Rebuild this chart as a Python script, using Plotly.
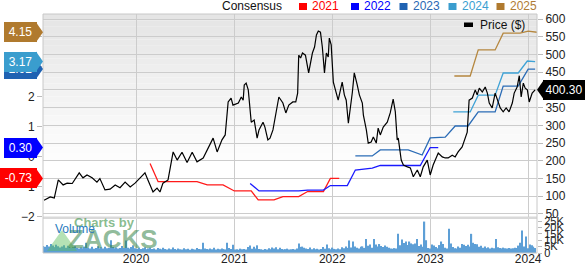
import plotly.graph_objects as go
import pandas as pd

# ---------------- data ----------------
price_dates = ["2019-01-23","2019-02-15","2019-03-02","2019-03-17","2019-04-04","2019-04-19","2019-05-08","2019-06-03","2019-06-17","2019-07-02",
"2019-07-21","2019-08-08","2019-08-19","2019-09-07","2019-09-26","2019-10-15","2019-11-02","2019-11-21","2019-12-10","2019-12-28",
"2020-01-16","2020-02-03","2020-02-14","2020-03-04","2020-03-19","2020-03-30","2020-04-10","2020-04-29","2020-05-18","2020-06-02",
"2020-06-20","2020-07-09","2020-07-28","2020-08-15","2020-09-07","2020-09-22","2020-10-14","2020-10-29","2020-11-09","2020-11-16",
"2020-11-28","2020-12-09","2020-12-20","2020-12-27","2021-01-16","2021-01-27","2021-02-03","2021-02-07","2021-02-14","2021-02-22",
"2021-03-05","2021-03-16","2021-03-27","2021-04-03","2021-04-18","2021-04-25","2021-05-06","2021-05-14","2021-05-25","2021-06-05",
"2021-06-16","2021-07-01","2021-07-12","2021-07-23","2021-08-07","2021-08-18","2021-08-25","2021-08-29","2021-09-05","2021-09-12",
"2021-09-23","2021-10-05","2021-10-19","2021-10-27","2021-11-03","2021-11-10","2021-11-18","2021-11-25","2021-12-03","2021-12-10",
"2021-12-17","2021-12-21","2021-12-28","2022-01-05","2022-01-16","2022-01-23","2022-02-07","2022-02-15","2022-02-22","2022-03-02",
"2022-03-17","2022-03-24","2022-04-04","2022-04-12","2022-04-23","2022-04-27","2022-05-08","2022-05-15","2022-05-26","2022-06-03",
"2022-06-14","2022-06-21","2022-06-29","2022-07-10","2022-07-25","2022-08-05","2022-08-16","2022-08-24","2022-08-31","2022-09-04",
"2022-09-15","2022-09-23","2022-10-08","2022-10-19","2022-10-30","2022-11-14","2022-11-25","2022-12-06","2022-12-21","2023-01-01",
"2023-01-12","2023-01-20","2023-01-31","2023-02-15","2023-02-26","2023-03-09","2023-03-24","2023-04-04","2023-04-15","2023-04-30",
"2023-05-11","2023-05-19","2023-05-26","2023-06-07","2023-06-18","2023-06-25","2023-07-03","2023-07-14","2023-07-25","2023-08-02",
"2023-08-09","2023-08-20","2023-08-31","2023-09-08","2023-09-19","2023-09-30","2023-10-11","2023-10-22","2023-11-03","2023-11-10",
"2023-11-21","2023-11-29","2023-12-06","2023-12-14","2023-12-21","2023-12-29","2024-01-05","2024-01-16","2024-01-27"]
price_values = [89,98,95,146,132,137,136,166,152,160,
152,140,150,118,120,132,124,140,126,137,
152,166,146,112,123,112,137,146,225,202,
224,195,224,197,208,230,264,225,247,259,
273,366,377,357,363,380,371,414,419,400,
309,315,264,287,309,295,259,264,287,329,
380,363,335,357,366,366,391,498,490,504,
498,448,504,521,555,566,563,521,448,504,
493,546,527,422,386,371,422,386,371,306,
394,448,414,386,363,329,287,250,253,267,
250,292,273,295,309,335,374,338,259,264,
202,188,183,180,155,174,155,183,202,160,
188,202,222,211,208,208,216,211,225,239,
264,281,371,377,400,386,405,394,408,391,
363,349,391,371,349,338,349,338,363,391,
408,440,380,419,405,400,366,391,400.30]

eps2021_dates = ["2020-02-22","2020-03-23","2020-08-15","2020-09-22","2020-11-20","2021-01-01","2021-03-05","2021-03-31",
                 "2021-05-29","2021-07-01","2021-08-29","2021-10-01","2021-11-29","2021-12-25","2022-01-27"]
eps2021_values = [-0.23,-0.84,-0.84,-0.95,-0.95,-1.15,-1.15,-1.45,-1.45,-1.34,-1.34,-1.17,-1.17,-0.73,-0.73]

eps2022_dates = ["2021-03-01","2021-04-03","2021-08-29","2021-10-01","2021-11-29","2021-12-25","2022-02-26","2022-03-28",
                 "2022-05-30","2022-06-29","2022-11-25","2023-01-01","2023-01-31"]
eps2022_values = [-0.90,-1.15,-1.15,-1.12,-1.12,-0.97,-0.97,-0.45,-0.39,-0.30,-0.30,0.30,0.30]

eps2023_dates = ["2022-03-28","2022-05-30","2022-06-29","2022-10-11","2022-12-02","2023-01-01","2023-02-26","2023-04-04",
                 "2023-05-22","2023-06-29","2023-08-31","2023-09-30","2023-11-25","2024-01-01","2024-01-27"]
eps2023_values = [0.02,0.02,0.22,0.22,0.05,0.62,0.65,1.02,1.02,1.49,1.49,2.35,2.35,2.92,2.92]

eps2024_dates = ["2023-03-28","2023-05-30","2023-06-29","2023-08-31","2023-09-30","2023-11-25","2023-12-29","2024-01-27"]
eps2024_values = [1.49,1.49,2.05,2.05,2.79,2.79,3.19,3.17]

eps2025_dates = ["2023-04-01","2023-05-30","2023-06-29","2023-08-31","2023-09-30","2023-12-02","2024-01-01","2024-02-03"]
eps2025_values = [2.69,2.69,3.56,3.56,4.12,4.12,4.19,4.15]

volume_start = "2019-01-20"
volume_k = [5.5,4.8,6.2,5.0,7.0,5.8,4.6,6.5,5.2,4.4,
5.0,6.0,4.2,5.6,4.8,3.9,4.5,5.2,4.0,3.6,
4.4,3.8,5.0,8.0,4.2,3.6,4.8,3.4,4.0,5.2,
3.8,4.4,3.5,4.9,3.7,4.2,10.0,4.6,3.8,4.3,
3.5,4.0,5.5,3.9,9.8,4.2,3.6,4.7,6.0,3.8,
3.4,4.0,3.2,3.7,4.5,3.0,3.6,4.2,3.1,3.5,
2.8,3.9,3.3,2.9,4.1,3.2,2.7,3.6,3.0,4.4,
3.1,2.6,3.5,3.0,2.8,3.8,2.9,3.3,2.6,3.4,
3.0,2.7,4.0,3.2,2.9,8.0,3.6,3.1,2.8,3.5,
3.0,4.2,2.7,3.3,2.9,3.6,3.1,2.8,8.0,4.0,
3.2,6.4,2.8,3.0,2.6,3.4,2.9,3.1,2.7,4.6,
5.9,3.3,4.8,3.5,6.0,3.2,2.9,2.6,3.1,2.7,
3.8,3.0,4.3,3.6,4.5,2.9,4.1,3.2,2.8,3.0,
3.4,2.7,2.9,3.1,2.8,3.5,7.4,4.8,5.0,4.2,
3.6,3.2,4.4,3.0,3.8,2.9,3.3,2.7,3.1,4.6,
3.4,6.6,3.8,3.0,4.2,3.2,2.9,3.6,3.0,4.5,
3.8,5.0,4.0,9.8,4.4,9.0,5.0,4.2,3.6,4.8,
5.2,4.0,11.0,5.6,6.6,4.2,11.0,6.6,5.0,7.0,
5.4,4.6,5.8,4.8,4.2,3.6,3.4,3.8,3.5,15.0,
6.0,10.5,7.8,9.0,6.2,9.0,7.5,6.8,7.4,11.0,
5.5,6.6,4.8,24.6,10.0,4.0,3.5,6.6,5.8,4.6,
3.8,6.2,9.0,7.0,4.2,3.6,19.0,7.4,4.6,3.8,
3.5,5.0,4.2,7.0,6.5,5.5,6.4,5.0,15.0,8.0,
7.0,6.8,4.8,5.6,4.2,5.0,3.8,4.4,3.6,4.2,
3.8,11.0,4.5,4.0,3.6,4.2,3.7,3.5,4.0,3.6,
3.8,4.2,4.0,5.8,8.0,17.6,5.0,13.0,3.8,6.6,
6.0,5.0,4.0]
volume_dates = pd.date_range(volume_start, periods=len(volume_k), freq="7D").strftime("%Y-%m-%d").tolist()

year_ticks = ["2020-01-01","2021-01-01","2022-01-01","2023-01-01","2024-01-01"]
year_labels = ["2020","2021","2022","2023","2024"]
price_ticks = list(range(50, 601, 50))
eps_ticks = [-2,-1,0,1,2,3,4]
vol_ticks = [0,5,10,15,20,25]
vol_labels = ["0","5K","10K","15K","20K","25K"]

series = [
    ("2021", eps2021_dates, eps2021_values, "#ff1a1a", "#ff0000", "#ff0000"),
    ("2022", eps2022_dates, eps2022_values, "#1a1aff", "#0000ff", "#0000ff"),
    ("2023", eps2023_dates, eps2023_values, "#2b6cb6", "#1f62b2", "#2a68b4"),
    ("2024", eps2024_dates, eps2024_values, "#3ea2d6", "#3a9dce", "#3aa0d2"),
    ("2025", eps2025_dates, eps2025_values, "#b5873f", "#b07a2e", "#b07c35"),
]

# ---------------- layout geometry ----------------
W, H = 588, 265
ML, MR, MT, MB = 43, 51, 14, 12
PW, PH = W - ML - MR, H - MT - MB

def px_x(p):
    return (p - ML) / PW

def px_y(p):
    return (H - MB - p) / PH

price_domain = [px_y(217), 1.0]
vol_domain = [0.0, px_y(219)]
EPS_RANGE = [-2.02, 4.76]
PRICE_RANGE = [41.5, 614.1]
VOL_RANGE = [0, 26.6]
price_h_px = 217 - 14
eps_per_px = (EPS_RANGE[1] - EPS_RANGE[0]) / price_h_px
price_per_px = (PRICE_RANGE[1] - PRICE_RANGE[0]) / price_h_px

FONT = "Liberation Sans, Arial, sans-serif"

fig = go.Figure()

for name, d, v, lc, bc, tc in series:
    fig.add_trace(go.Scatter(x=d, y=v, mode="lines", yaxis="y",
                             line=dict(color=lc, width=1.3), name=name, hoverinfo="skip"))

fig.add_trace(go.Scatter(x=price_dates, y=price_values, mode="lines", yaxis="y2",
                         line=dict(color="#000000", width=1.2), name="Price ($)"))

fig.add_trace(go.Bar(x=volume_dates, y=volume_k, yaxis="y3", xaxis="x",
                     marker=dict(color="#5d9fd6", line=dict(width=0)), name="Volume"))

shapes = []
annotations = []

# gradient background of price panel
n_bands = 24
for k in range(n_bands):
    f1 = 1.0 - k * 0.75 / n_bands
    f0 = 1.0 - (k + 1) * 0.75 / n_bands
    c = int(229 + (255 - 229) * k / (n_bands - 1))
    shapes.append(dict(type="rect", xref="x domain", yref="y domain", x0=0, x1=1, y0=f0, y1=f1,
                       fillcolor=f"rgb({c},{c},{c})", line=dict(width=0), layer="below"))

# separator band between panels
shapes.append(dict(type="rect", xref="paper", yref="paper", x0=0, x1=1, y0=px_y(219), y1=px_y(216.5),
                   fillcolor="#d9d9d9", line=dict(width=0), layer="below"))
# frame
shapes.append(dict(type="rect", xref="paper", yref="paper", x0=0, x1=1, y0=0, y1=1,
                   line=dict(color="#c8c8c8", width=1), fillcolor="rgba(0,0,0,0)", layer="above"))

# left badges (consensus current values)
for name, d, v, lc, bc, tc in series:
    val = v[-1]
    h = 10 * eps_per_px
    shapes.append(dict(type="path", xref="paper", yref="y", layer="above",
                       path=f"M{px_x(36)},{val + h} L{px_x(43)},{val} L{px_x(36)},{val - h} Z",
                       fillcolor=bc, line=dict(width=0)))
    txt = f"{val:.2f}"
    annotations.append(dict(x=px_x(37), y=val, xref="paper", yref="y", xanchor="right", yanchor="middle",
                            text=txt, showarrow=False, width=37 if txt.startswith("-") else 33, height=20,
                            bgcolor=bc, borderpad=0, borderwidth=0,
                            font=dict(color="white", size=12, family=FONT)))

# right price badge
pval = price_values[-1]
ph = 10 * price_per_px
shapes.append(dict(type="path", xref="paper", yref="y2", layer="above",
                   path=f"M{px_x(544)},{pval + ph} L{px_x(537)},{pval} L{px_x(544)},{pval - ph} Z",
                   fillcolor="#000000", line=dict(width=0)))
annotations.append(dict(x=px_x(543), y=pval, xref="paper", yref="y2", xanchor="left", yanchor="middle",
                        text=f"{pval:.2f}", showarrow=False, width=42, height=20, bgcolor="#000000",
                        borderpad=0, borderwidth=0, font=dict(color="white", size=12, family=FONT)))

# top legend
LEG_Y = 6.5
annotations.append(dict(x=px_x(220), y=px_y(LEG_Y), xref="paper", yref="paper", xanchor="left", yanchor="middle",
                        text="Consensus", showarrow=False, font=dict(color="#111", size=12, family=FONT)))
leg_sq = [299, 351, 399.5, 448.5, 496.5]
for (name, d, v, lc, bc, tc), sx in zip(series, leg_sq):
    shapes.append(dict(type="rect", xref="paper", yref="paper", x0=px_x(sx), x1=px_x(sx + 8),
                       y0=px_y(LEG_Y + 3.5), y1=px_y(LEG_Y - 3.5), fillcolor=bc, line=dict(width=0)))
    annotations.append(dict(x=px_x(sx + 11), y=px_y(LEG_Y), xref="paper", yref="paper", xanchor="left",
                            yanchor="middle", text=name, showarrow=False,
                            font=dict(color=tc, size=12, family=FONT)))

# price legend
shapes.append(dict(type="rect", xref="paper", yref="paper", x0=px_x(464), x1=px_x(473),
                   y0=px_y(27), y1=px_y(22.5), fillcolor="#000", line=dict(width=0)))
annotations.append(dict(x=px_x(478), y=px_y(25), xref="paper", yref="paper", xanchor="left", yanchor="middle",
                        text="Price ($)", showarrow=False, font=dict(color="#111", size=12, family=FONT)))

# watermark / volume label
shapes.append(dict(type="path", xref="paper", yref="paper", layer="above",
                   path=f"M{px_x(47)},{px_y(251)} L{px_x(62)},{px_y(230)} L{px_x(77)},{px_y(251)} Z",
                   fillcolor="rgba(90,190,90,0.45)", line=dict(width=0)))
annotations.append(dict(x=px_x(104), y=px_y(222), xref="paper", yref="paper", xanchor="center", yanchor="middle",
                        text="<b>Charts by</b>", showarrow=False,
                        font=dict(color="rgba(70,150,80,0.65)", size=13, family=FONT)))
annotations.append(dict(x=px_x(113), y=px_y(239), xref="paper", yref="paper", xanchor="center", yanchor="middle",
                        text="<b>ZACKS</b>", showarrow=False,
                        font=dict(color="rgba(50,130,70,0.55)", size=26, family=FONT)))
annotations.append(dict(x=px_x(53), y=px_y(229), xref="paper", yref="paper", xanchor="left", yanchor="middle",
                        text="Volume", showarrow=False, font=dict(color="#2a7bbd", size=12, family=FONT)))

axis_font = dict(family=FONT, size=12, color="#222")

fig.update_layout(
    width=W, height=H,
    margin=dict(l=ML, r=MR, t=MT, b=MB, autoexpand=False),
    paper_bgcolor="white", plot_bgcolor="rgba(0,0,0,0)",
    showlegend=False, bargap=0.35,
    font=dict(family=FONT, size=12, color="#222"),
    xaxis=dict(type="date", range=["2019-01-19", "2024-02-03"], anchor="y3",
               tickvals=year_ticks, ticktext=year_labels, ticks="", showgrid=True,
               gridcolor="#cccccc", gridwidth=1, showline=False, zeroline=False,
               tickfont=axis_font, automargin=False, ticklabelstandoff=-3),
    yaxis=dict(domain=price_domain, range=EPS_RANGE, side="left", tickvals=eps_ticks,
               ticks="outside", ticklen=5, tickcolor="#bbbbbb", showgrid=False, zeroline=False,
               showline=False, tickfont=axis_font, automargin=False),
    yaxis2=dict(domain=price_domain, range=PRICE_RANGE, side="right", overlaying="y", anchor="x",
                tickvals=price_ticks, ticks="outside", ticklen=5, tickcolor="#bbbbbb",
                showgrid=True, gridcolor="#cccccc", gridwidth=1, zeroline=False, showline=False,
                tickfont=axis_font, automargin=False),
    yaxis3=dict(domain=vol_domain, range=VOL_RANGE, side="right", anchor="x",
                tickvals=vol_ticks, ticktext=vol_labels, ticks="outside", ticklen=4, tickcolor="#bbbbbb",
                showgrid=False, zeroline=False, showline=False,
                tickfont=dict(family=FONT, size=11, color="#222"), automargin=False),
    shapes=shapes, annotations=annotations,
)

fig.write_html("out.html")
